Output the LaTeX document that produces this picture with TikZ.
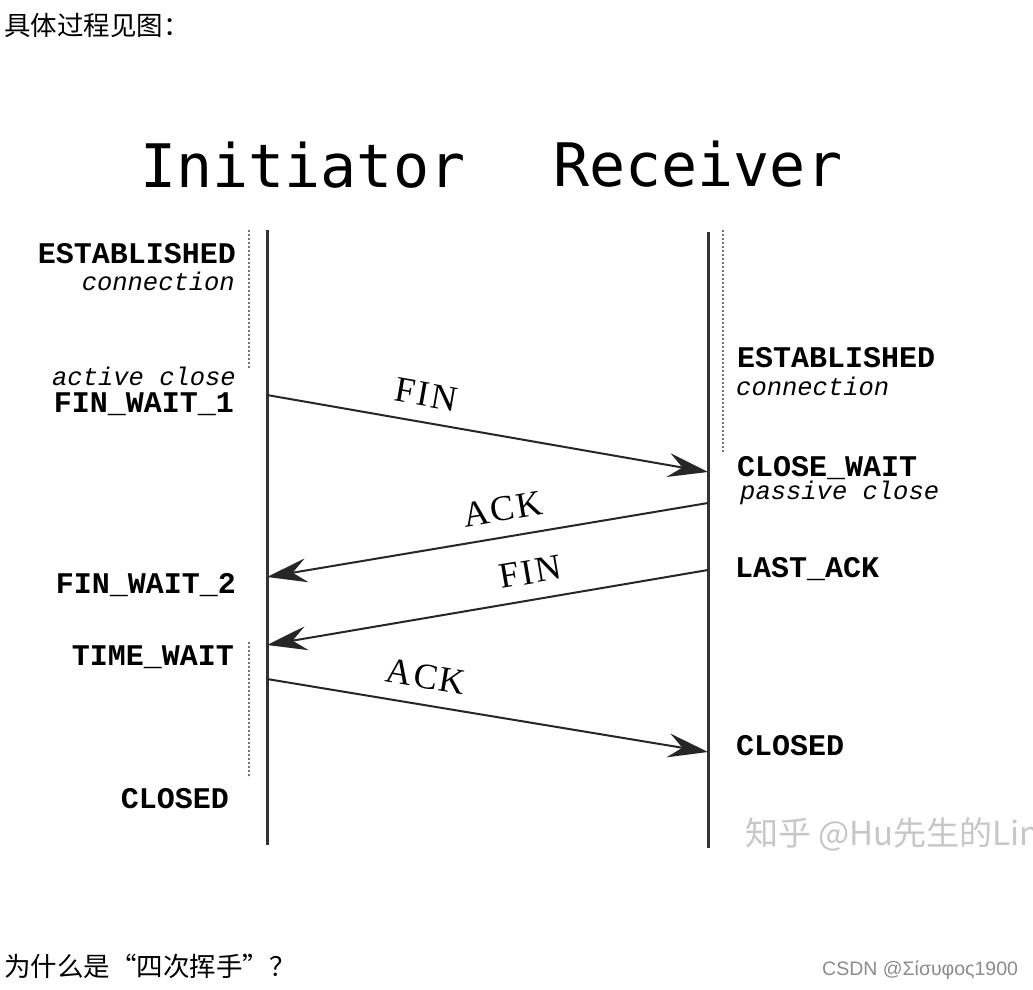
\documentclass[tikz,border=0pt]{standalone}
\usepackage{fontspec}
\setmainfont{Liberation Serif}
\newfontfamily\cjk{Noto Sans CJK SC}
\newfontfamily\monof{Liberation Mono}
\newfontfamily\titlef{DejaVu Sans Mono}
\newfontfamily\lblf[LetterSpace=6]{Liberation Serif}
\newfontfamily\sansf{Liberation Sans}
\usetikzlibrary{arrows.meta}
\tikzset{
  life/.style={draw=black!80, line width=3pt},
  dots/.style={draw=black!55, line width=1.6pt, dash pattern=on 1.6pt off 2.4pt},
  msg/.style={draw=black!85, line width=2pt, -{Stealth[length=40pt,width=24pt,inset=14pt]}},
  stbold/.style={inner sep=0pt, font=\monof\bfseries\fontsize{30}{32}\selectfont},
  stital/.style={inner sep=0pt, font=\monof\itshape\fontsize{25.5}{28}\selectfont},
  msglbl/.style={inner sep=0pt, font=\lblf\fontsize{36}{40}\selectfont, sloped, above=15pt},
  ttl/.style={inner sep=0pt, anchor=base west, font=\titlef\fontsize{60}{70}\selectfont},
  cjktxt/.style={inner sep=0pt, anchor=west, font=\cjk\fontsize{26.5}{30}\selectfont},
}
\begin{document}
\begin{tikzpicture}[x=1pt,y=-1pt]
\useasboundingbox (0,0) rectangle (1033,990);
\clip (0,0) rectangle (1033,990);
\fill[white] (0,0) rectangle (1033,990);

% texts of the page
\node[cjktxt] (top) at (4,25) {具体过程见图：};
\node[cjktxt] (bottom) at (4,966) {为什么是“四次挥手”？};
\node[inner sep=0pt, anchor=west, text=black!45, font=\sansf\fontsize{19.5}{22}\selectfont] (csdn) at (822,970) {CSDN @Σίσυφος1900};

% titles
\node[ttl] (init) at (140,187) {Initiator};
\node[ttl] (recv) at (553,186) {Receiver};

% lifelines
\coordinate (Ltop) at (267,230);
\coordinate (Lbot) at (267,845);
\coordinate (Rtop) at (708,232);
\coordinate (Rbot) at (708,848);
\draw[life] (Ltop) -- (Lbot);
\draw[life] (Rtop) -- (Rbot);

% dotted state spans
\coordinate (d1a) at (249,230); \coordinate (d1b) at (249,368);
\coordinate (d2a) at (249,642); \coordinate (d2b) at (249,778);
\coordinate (d3a) at (723,230); \coordinate (d3b) at (723,452);
\draw[dots] (d1a) -- (d1b);
\draw[dots] (d2a) -- (d2b);
\draw[dots] (d3a) -- (d3b);

% message end points
\coordinate (m1s) at (267,395); \coordinate (m1e) at (708,472);
\coordinate (m2s) at (708,503); \coordinate (m2e) at (267,577);
\coordinate (m3s) at (708,570); \coordinate (m3e) at (267,645);
\coordinate (m4s) at (267,679); \coordinate (m4e) at (708,752);

\draw[msg] (m1s) -- node[msglbl, pos=0.35] (l1) {FIN} (m1e);
\draw[msg] (m2s) -- node[msglbl, pos=0.455] (l2) {ACK} (m2e);
\draw[msg] (m3s) -- node[msglbl, pos=0.393] (l3) {FIN} (m3e);
\draw[msg] (m4s) -- node[msglbl, pos=0.35] (l4) {ACK} (m4e);

% left states
\node[stbold, anchor=base east] (lest) at (236,263) {ESTABLISHED};
\node[stital, anchor=base east] (lcon) at (235,290) {connection};
\node[stital, anchor=base east] (lact) at (236,385) {active close};
\node[stbold, anchor=base east] (lfw1) at (234,412) {FIN\_WAIT\_1};
\node[stbold, anchor=base east] (lfw2) at (236,593) {FIN\_WAIT\_2};
\node[stbold, anchor=base east] (ltw) at (234,665) {TIME\_WAIT};
\node[stbold, anchor=base east] (lcl) at (229,808) {CLOSED};

% right states
\node[stbold, anchor=base west] (rest) at (737,367) {ESTABLISHED};
\node[stital, anchor=base west] (rcon) at (736,395) {connection};
\node[stbold, anchor=base west] (rcw) at (737,476) {CLOSE\_WAIT};
\node[stital, anchor=base west] (rpas) at (740,499) {passive close};
\node[stbold, anchor=base west] (rla) at (735,577) {LAST\_ACK};
\node[stbold, anchor=base west] (rcl) at (736,755) {CLOSED};

% watermark
\node[inner sep=0pt, anchor=west, text=black!22, font=\cjk\fontsize{33}{36}\selectfont] (wm) at (745,834) {知乎 @Hu先生的Lin};
\end{tikzpicture}
\end{document}
